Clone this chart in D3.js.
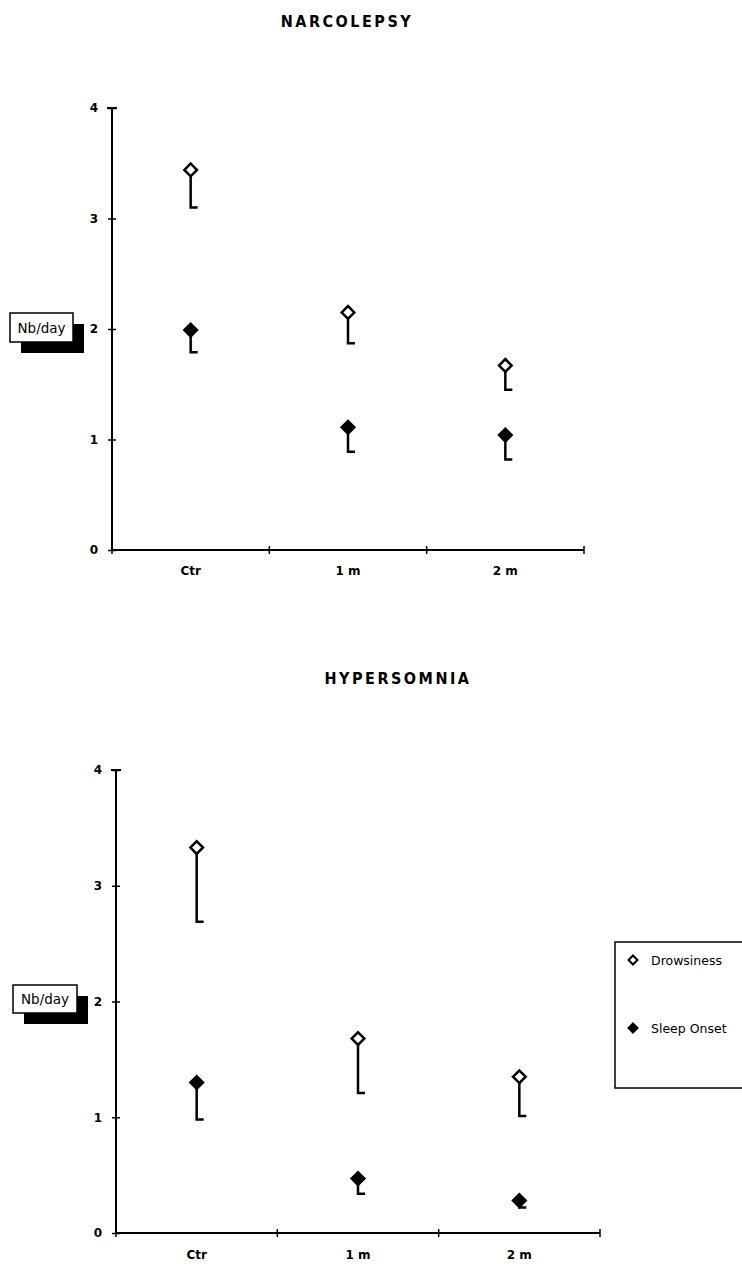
<!DOCTYPE html>
<html>
<head>
<meta charset="utf-8">
<script src="https://cdn.jsdelivr.net/npm/d3@7"></script>
<style>
  body { margin: 0; background: #fff; }
  svg { display: block; }
  .tick text { font-family: "DejaVu Sans", sans-serif; font-weight: bold; }
</style>
</head>
<body>
<div id="chart"></div>
<script>
// categories and values
const categories = ['Ctr', '1 m', '2 m'];
const yTicks = [0, 1, 2, 3, 4];

const narcoDrowsiness = [3.44, 2.15, 1.67];
const narcoDrowsinessErr = [0.34, 0.28, 0.22];
const narcoSleep = [1.99, 1.11, 1.04];
const narcoSleepErr = [0.20, 0.22, 0.22];

const hyperDrowsiness = [3.33, 1.68, 1.35];
const hyperDrowsinessErr = [0.64, 0.47, 0.34];
const hyperSleep = [1.30, 0.47, 0.28];
const hyperSleepErr = [0.32, 0.13, 0.06];

const legendLabels = ['Drowsiness', 'Sleep Onset'];

const W = 742, H = 1264;

const svg = d3.select('#chart')
    .append('svg')
    .attr('width', W)
    .attr('height', H);

svg.append('rect').attr('width', W).attr('height', H).attr('fill', '#fff');

// diamond = square turned 45deg
const diamond = d3.symbol().type(d3.symbolSquare).size(80);
const smallDiamond = d3.symbol().type(d3.symbolSquare).size(40);

function panel(opts) {
    const x = d3.scaleBand()
        .domain(categories)
        .range([opts.left, opts.right])
        .padding(0);
    const y = d3.scaleLinear()
        .domain([0, 4])
        .range([opts.bottom, opts.top]);

    const g = svg.append('g');

    // title
    g.append('text')
        .attr('x', opts.titleX)
        .attr('y', opts.titleY)
        .attr('text-anchor', 'middle')
        .style('font-family', '"DejaVu Sans Condensed", "DejaVu Sans", sans-serif')
        .style('font-weight', 'bold')
        .style('font-size', '16px')
        .style('letter-spacing', '2.5px')
        .text(opts.title);

    // y axis
    const yAxis = g.append('g')
        .attr('transform', `translate(${opts.left},0)`)
        .call(d3.axisLeft(y).tickValues(yTicks).tickSize(4).tickPadding(10).tickFormat(d3.format('d')));
    yAxis.select('.domain').remove();
    yAxis.selectAll('.tick line').attr('x1', 4).attr('stroke-width', 1.5);
    yAxis.selectAll('.tick text').style('font-size', '12px');
    g.append('line')
        .attr('x1', opts.left).attr('x2', opts.left)
        .attr('y1', y(0)).attr('y2', y(4))
        .attr('stroke', '#000').attr('stroke-width', 2);
    // cap at the top
    g.append('line')
        .attr('x1', opts.left - 5).attr('x2', opts.left + 5)
        .attr('y1', y(4)).attr('y2', y(4))
        .attr('stroke', '#000').attr('stroke-width', 2);

    // x axis: line, ticks at band edges, labels at centres
    g.append('line')
        .attr('x1', opts.left).attr('x2', opts.right)
        .attr('y1', y(0)).attr('y2', y(0))
        .attr('stroke', '#000').attr('stroke-width', 2);
    const edges = categories.map(c => x(c)).concat([x.range()[1]]);
    g.selectAll('.xedge')
        .data(edges)
        .enter()
        .append('line')
        .attr('x1', d => d).attr('x2', d => d)
        .attr('y1', y(0) - 4).attr('y2', y(0) + 4)
        .attr('stroke', '#000').attr('stroke-width', 1.5);

    const xAxis = g.append('g')
        .attr('transform', `translate(0,${y(0)})`)
        .call(d3.axisBottom(x).tickSize(0).tickPadding(opts.labelPad));
    xAxis.select('.domain').remove();
    xAxis.selectAll('.tick text').style('font-size', '12px');

    // Nb/day box with drop shadow
    const b = opts.box;
    g.append('rect')
        .attr('x', b.x + 11).attr('y', b.y + 11)
        .attr('width', b.w).attr('height', b.h)
        .attr('fill', '#000');
    g.append('rect')
        .attr('x', b.x).attr('y', b.y)
        .attr('width', b.w).attr('height', b.h)
        .attr('fill', '#fff').attr('stroke', '#000').attr('stroke-width', 1.5);
    g.append('text')
        .attr('x', b.x + b.w / 2).attr('y', b.y + b.h / 2 + 5)
        .attr('text-anchor', 'middle')
        .style('font-family', '"DejaVu Sans", sans-serif')
        .style('font-size', '13.5px')
        .text('Nb/day');

    // series: value with one-sided (downward) error bar
    const series = [
        { values: opts.drowsiness, err: opts.drowsinessErr, fill: '#fff' },
        { values: opts.sleep, err: opts.sleepErr, fill: '#000' }
    ];
    series.forEach(s => {
        const pts = categories.map((c, i) => ({
            cx: x(c) + x.bandwidth() / 2,
            v: s.values[i],
            lo: s.values[i] - s.err[i]
        }));
        g.selectAll(null)
            .data(pts)
            .enter()
            .append('path')
            .attr('d', d => `M${d.cx},${y(d.v)}V${y(d.lo)}h7`)
            .attr('fill', 'none')
            .attr('stroke', '#000')
            .attr('stroke-width', 2.5);
        g.selectAll(null)
            .data(pts)
            .enter()
            .append('path')
            .attr('d', diamond)
            .attr('transform', d => `translate(${d.cx},${y(d.v)}) rotate(45)`)
            .attr('fill', s.fill)
            .attr('stroke', '#000')
            .attr('stroke-width', 2.5);
    });
}

panel({
    title: 'NARCOLEPSY', titleX: 347, titleY: 27,
    left: 112, right: 584, top: 108, bottom: 550, labelPad: 16,
    box: { x: 10, y: 313, w: 63, h: 29 },
    drowsiness: narcoDrowsiness, drowsinessErr: narcoDrowsinessErr,
    sleep: narcoSleep, sleepErr: narcoSleepErr
});

panel({
    title: 'HYPERSOMNIA', titleX: 398, titleY: 684,
    left: 116, right: 600, top: 770, bottom: 1233, labelPad: 17,
    box: { x: 13, y: 985, w: 64, h: 28 },
    drowsiness: hyperDrowsiness, drowsinessErr: hyperDrowsinessErr,
    sleep: hyperSleep, sleepErr: hyperSleepErr
});

// legend (box runs off the right edge)
const legend = svg.append('g');
legend.append('rect')
    .attr('x', 615).attr('y', 942)
    .attr('width', 140).attr('height', 146)
    .attr('fill', '#fff').attr('stroke', '#000').attr('stroke-width', 1.5);
legendLabels.forEach((label, i) => {
    const ly = 960 + i * 68;
    legend.append('path')
        .attr('d', smallDiamond)
        .attr('transform', `translate(633,${ly}) rotate(45)`)
        .attr('fill', i === 0 ? '#fff' : '#000')
        .attr('stroke', '#000')
        .attr('stroke-width', 2);
    legend.append('text')
        .attr('x', 651).attr('y', ly + 5)
        .style('font-family', '"DejaVu Sans", sans-serif')
        .style('font-size', '12.5px')
        .text(label);
});
</script>
</body>
</html>
